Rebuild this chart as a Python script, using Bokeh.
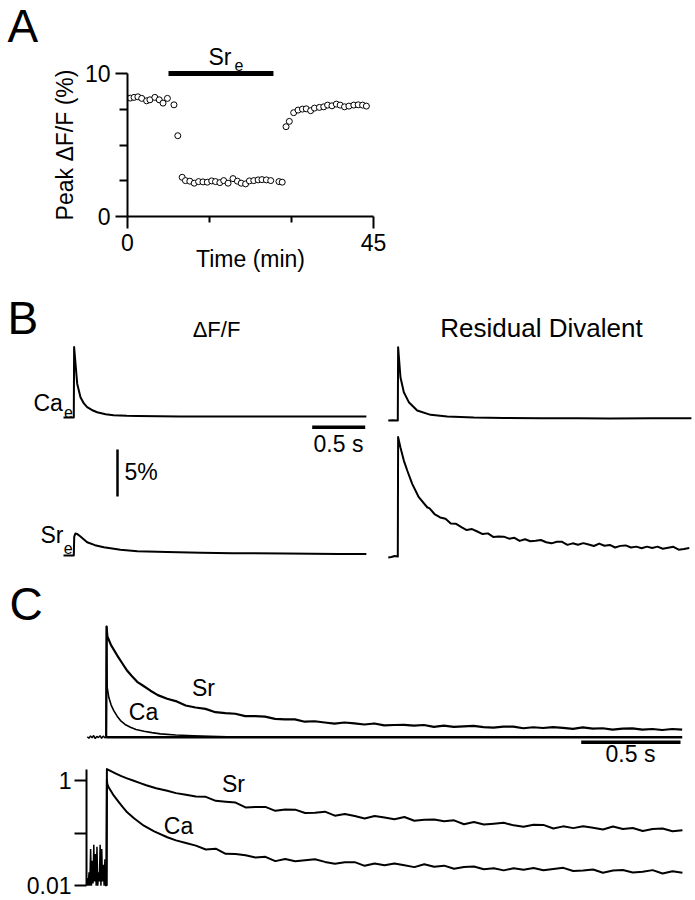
import math
from bokeh.plotting import figure
from bokeh.layouts import column, row
from bokeh.models import Label, Range1d, FixedTicker
from bokeh.embed import file_html
from bokeh.resources import INLINE

FONT = "Liberation Sans"
INK = "black"

# ---------------- DATA ----------------
# Panel A: peak dF/F (%) vs time (min)
a_time_min = [0.5, 1.2, 1.9, 2.6, 3.5, 4.1, 5.0, 5.8, 6.5, 7.3, 8.5, 9.2,
              10.0, 10.6, 11.4, 12.2, 13.0, 13.8, 14.6, 15.4, 16.1, 16.9, 17.6, 18.4,
              19.3, 20.1, 20.8, 21.6, 22.3, 23.1, 23.9, 24.6, 25.4, 26.2, 27.7, 28.3,
              29.0, 29.6, 30.4, 31.2, 32.0, 32.7, 33.5, 34.2, 35.1, 35.9, 36.6, 37.4,
              38.2, 38.9, 39.7, 40.5, 41.4, 42.2, 43.0, 43.7]
a_peak_dff = [8.28, 8.33, 8.37, 8.26, 8.09, 8.16, 8.33, 8.16, 7.93, 8.26, 7.81, 5.65,
              2.74, 2.51, 2.47, 2.33, 2.44, 2.42, 2.40, 2.49, 2.44, 2.37, 2.51, 2.33,
              2.65, 2.47, 2.33, 2.28, 2.49, 2.51, 2.56, 2.58, 2.56, 2.51, 2.44, 2.40,
              6.28, 6.65, 7.26, 7.44, 7.51, 7.53, 7.40, 7.58, 7.63, 7.67, 7.79, 7.74,
              7.86, 7.79, 7.67, 7.72, 7.79, 7.81, 7.79, 7.72]
a_sr_bar_min = [7.5, 26.7]
a_sr_bar_level = [10, 10]
a_x_ticks = [0, 45]
a_x_minor = [15, 30]
a_y_ticks = [0, 10]
a_y_minor = [2.5, 5, 7.5]

# Panel B: dF/F (%) traces, time in s
b_ca_t = [-0.097, 0.0, 0.003, 0.016, 0.032, 0.063, 0.095, 0.126, 0.17, 0.22, 0.30,
          0.375, 0.50, 0.60, 0.80, 1.00, 1.50, 2.00, 2.50, 2.76]
b_ca_dff = [0.0, 0.0, 7.5, 5.74, 3.6, 2.16, 1.5, 1.1, 0.8, 0.56, 0.35,
            0.25, 0.18, 0.15, 0.12, 0.11, 0.10, 0.10, 0.10, 0.10]
b_sr_t = [-0.097, 0.0, 0.004, 0.015, 0.03, 0.06, 0.126, 0.20, 0.283, 0.44, 0.60,
          0.88, 1.20, 1.50, 2.00, 2.50, 2.76]
b_sr_dff = [0.0, 0.0, 2.0, 2.34, 2.3, 2.05, 1.41, 1.1, 0.88, 0.61, 0.46,
            0.36, 0.30, 0.25, 0.20, 0.17, 0.15]
# Residual divalent traces
b_res_ca_t = [-0.09, -0.05, 0.0, 0.003, 0.025, 0.057, 0.104, 0.183, 0.31, 0.466,
              0.717, 1.0, 1.35, 1.7, 2.0, 2.4, 2.77]
b_res_ca_v = [0.0, 0.02, 0.0, 7.8, 4.6, 3.0, 1.95, 1.06, 0.6, 0.43,
              0.32, 0.27, 0.24, 0.24, 0.22, 0.24, 0.24]
b_res_sr_t = [-0.09, -0.06, -0.03, 0.0, 0.003, 0.025, 0.057, 0.089, 0.136, 0.198, 0.277,
              0.30, 0.35, 0.40, 0.45, 0.50, 0.55, 0.60, 0.65, 0.70, 0.75,
              0.80, 0.85, 0.90, 0.95, 1.00, 1.05, 1.10, 1.15, 1.20, 1.25,
              1.30, 1.35, 1.40, 1.45, 1.50, 1.55, 1.60, 1.65, 1.70, 1.75,
              1.80, 1.85, 1.90, 1.95, 2.00, 2.05, 2.10, 2.15, 2.20, 2.25,
              2.30, 2.35, 2.40, 2.45, 2.50, 2.55, 2.60, 2.65, 2.70, 2.75]
b_res_sr_v = [-0.1, -0.05, 0.05, 0.0, 12.7, 11.6, 10.2, 9.15, 7.73, 6.31, 5.24,
              5.12, 4.47, 4.15, 4.01, 3.50, 3.48, 3.13, 2.81, 2.92, 2.66,
              2.39, 2.46, 2.08, 2.12, 2.11, 1.90, 1.99, 1.66, 1.84, 1.62,
              1.68, 1.76, 1.52, 1.40, 1.56, 1.56, 1.24, 1.40, 1.25, 1.42,
              1.27, 1.12, 1.37, 1.14, 1.23, 0.96, 1.13, 1.18, 0.96, 1.05,
              0.87, 1.05, 0.91, 1.05, 0.83, 0.93, 1.03, 0.73, 0.80, 0.90]
b_scale_time_s = 0.5
b_scale_pct = 5

# Panel C (top): normalised residual divalent, linear
c_pre_t = [-0.095, -0.087, -0.079, -0.071, -0.063, -0.055, -0.047, -0.039, -0.031,
           -0.023, -0.015, -0.007, 0.0]
c_pre_v = [0.004, -0.010, 0.012, -0.006, 0.015, -0.012, 0.008, -0.004, 0.014,
           -0.010, 0.010, -0.006, 0.0]
c_tail_t = [0.35, 0.40, 0.45, 0.50, 0.55, 0.60, 0.65, 0.70, 0.75, 0.80,
            0.85, 0.90, 0.95, 1.00, 1.05, 1.10, 1.15, 1.20, 1.25, 1.30,
            1.35, 1.40, 1.45, 1.50, 1.55, 1.60, 1.65, 1.70, 1.75, 1.80,
            1.85, 1.90, 1.95, 2.00, 2.05, 2.10, 2.15, 2.20, 2.25, 2.30,
            2.35, 2.40, 2.45, 2.50, 2.55, 2.60, 2.65, 2.70, 2.75, 2.80,
            2.85, 2.90]
c_sr_head_t = [0.0, 0.002, 0.006, 0.025, 0.055, 0.08, 0.106, 0.13, 0.156, 0.19,
               0.223, 0.26, 0.307]
c_sr_head_v = [0.0, 1.0, 0.91, 0.83, 0.74, 0.67, 0.60, 0.55, 0.50, 0.46,
               0.42, 0.38, 0.347]
c_sr_tail_v = [0.326, 0.286, 0.268, 0.256, 0.226, 0.217, 0.212, 0.190, 0.191, 0.186,
               0.166, 0.161, 0.161, 0.140, 0.144, 0.133, 0.123, 0.133, 0.125, 0.115,
               0.124, 0.107, 0.110, 0.112, 0.104, 0.110, 0.094, 0.104, 0.094, 0.098,
               0.103, 0.091, 0.086, 0.095, 0.096, 0.081, 0.090, 0.083, 0.091, 0.084,
               0.076, 0.088, 0.077, 0.081, 0.068, 0.077, 0.080, 0.069, 0.074, 0.065,
               0.074, 0.068]
c_ca_t = [0.0, 0.002, 0.005, 0.013, 0.025, 0.038, 0.055, 0.072, 0.095, 0.122, 0.15,
          0.19, 0.23, 0.273, 0.35, 0.44, 0.52, 0.61, 0.75, 1.0, 1.5, 2.0, 2.5, 2.9]
c_ca_v = [0.0, 1.0, 0.45, 0.36, 0.29, 0.24, 0.19, 0.15, 0.115, 0.09, 0.07,
          0.054, 0.041, 0.03, 0.02, 0.013, 0.008, 0.004, 0.002, 0.001, 0.0, 0.0, 0.0, 0.0]
c_zero_t = [0.0, 2.9]
c_zero_v = [0.0, 0.0]
c_scale_time_s = 0.5

# Panel C (bottom): log scale
cl_pre_t = [-0.100, -0.096, -0.092, -0.088, -0.084, -0.080, -0.076, -0.072, -0.068,
            -0.064, -0.060, -0.056, -0.052, -0.048, -0.044, -0.040, -0.036, -0.032,
            -0.028, -0.024, -0.020, -0.016, -0.012, -0.008, -0.004, 0.000]
cl_pre_v = [0.010, 0.014, 0.010, 0.018, 0.010, 0.050, 0.010, 0.030, 0.011,
            0.060, 0.012, 0.040, 0.010, 0.055, 0.010, 0.018, 0.012, 0.060,
            0.010, 0.050, 0.012, 0.025, 0.010, 0.032, 0.010, 0.010]
cl_tail_t = [0.50, 0.55, 0.60, 0.65, 0.70, 0.75, 0.80, 0.85, 0.90, 0.95,
             1.00, 1.05, 1.10, 1.15, 1.20, 1.25, 1.30, 1.35, 1.40, 1.45,
             1.50, 1.55, 1.60, 1.65, 1.70, 1.75, 1.80, 1.85, 1.90, 1.95,
             2.00, 2.05, 2.10, 2.15, 2.20, 2.25, 2.30, 2.35, 2.40, 2.45,
             2.50, 2.55, 2.60, 2.65, 2.70, 2.75, 2.80, 2.85, 2.90]
cl_sr_head_t = [0.0, 0.002, 0.025, 0.05, 0.075, 0.1, 0.137, 0.17, 0.2, 0.25, 0.306,
                0.35, 0.4, 0.45]
cl_sr_head_v = [0.01, 1.67, 1.5, 1.35, 1.22, 1.12, 1.0, 0.9, 0.82, 0.72, 0.645,
                0.58, 0.54, 0.50]
cl_sr_tail_v = [0.493, 0.413, 0.398, 0.384, 0.310, 0.314, 0.317, 0.267, 0.283, 0.281,
                0.242, 0.245, 0.257, 0.216, 0.232, 0.212, 0.191, 0.213, 0.200, 0.184,
                0.203, 0.173, 0.180, 0.183, 0.169, 0.176, 0.148, 0.163, 0.147, 0.152,
                0.158, 0.141, 0.133, 0.145, 0.144, 0.123, 0.135, 0.125, 0.136, 0.127,
                0.118, 0.134, 0.120, 0.126, 0.110, 0.120, 0.123, 0.109, 0.114]
cl_ca_head_t = [0.0, 0.002, 0.004, 0.01, 0.02, 0.037, 0.06, 0.08, 0.104, 0.14, 0.188,
                0.24, 0.306, 0.35, 0.4, 0.45]
cl_ca_head_v = [0.01, 1.05, 0.865, 0.76, 0.66, 0.518, 0.40, 0.32, 0.25, 0.19, 0.139,
                0.108, 0.0836, 0.073, 0.065, 0.058]
cl_ca_tail_v = [0.0490, 0.0508, 0.0404, 0.0400, 0.0380, 0.0343, 0.0355, 0.0294, 0.0322, 0.0293,
                0.0306, 0.0319, 0.0284, 0.0263, 0.0281, 0.0281, 0.0239, 0.0264, 0.0245, 0.0265,
                0.0245, 0.0226, 0.0257, 0.0230, 0.0241, 0.0210, 0.0228, 0.0233, 0.0206, 0.0215,
                0.0196, 0.0215, 0.0202, 0.0217, 0.0197, 0.0208, 0.0219, 0.0190, 0.0194, 0.0203,
                0.0177, 0.0194, 0.0199, 0.0179, 0.0185, 0.0198, 0.0171, 0.0188, 0.0176]
cl_y_ticks = [0.01, 1]
cl_y_minor = [0.1]
cl_y_labels = {0.01: "0.01", 1: "1"}

# ---------------- HELPERS ----------------
BASELINE_FIX = 0.39  # Bokeh draws "alphabetic" labels this many em too low


def style(p):
    p.outline_line_color = None
    p.background_fill_color = "white"
    p.border_fill_color = "white"
    p.xgrid.visible = False
    p.ygrid.visible = False


def bare_fig(w, h, xr, yr):
    p = figure(width=w, height=h, x_range=Range1d(*xr), y_range=Range1d(*yr),
               x_axis_location=None, y_axis_location=None,
               toolbar_location=None, output_backend="svg", min_border=0)
    style(p)
    return p


def text(p, fx, fy, px, py, s, size=23, align="left"):
    p.add_layout(Label(x=fx(px), y=fy(py - BASELINE_FIX * size), text=s, text_font=FONT,
                       text_font_size=f"{size}px", text_align=align,
                       text_baseline="alphabetic", text_color=INK))


def style_axis(ax, size=23):
    ax.axis_line_width = 2
    ax.axis_line_color = INK
    ax.major_tick_line_width = 2
    ax.minor_tick_line_width = 2
    ax.major_tick_line_color = INK
    ax.minor_tick_line_color = INK
    ax.major_tick_in = 0
    ax.minor_tick_in = 0
    ax.major_tick_out = 12
    ax.major_label_text_font = FONT
    ax.major_label_text_font_size = f"{size}px"
    ax.major_label_text_color = INK
    ax.axis_label_text_font = FONT
    ax.axis_label_text_font_size = f"{size}px"
    ax.axis_label_text_font_style = "normal"
    ax.axis_label_text_color = INK


def ident(v):
    return v


# ---------------- PANEL A ----------------
# side strip with the panel letter and the y-axis title (page pixels 0..80)
pAs = bare_fig(80, 288, (0, 80), (288, 0))
text(pAs, ident, ident, 7, 43, "A", 46)
pAs.add_layout(Label(x=64, y=144.5, text="Peak ΔF/F (%)", angle=math.pi / 2,
                     text_font=FONT, text_font_size="23px", text_align="center",
                     text_baseline="alphabetic", text_color=INK))


def a_x(px):
    return (px - 127.0) * 45.0 / 246.0


def a_y(py):
    return (216.0 - py) / 14.3


pA = figure(width=615, height=288, x_range=Range1d(0, 45), y_range=Range1d(0, a_y(40)),
            toolbar_location=None, output_backend="svg",
            min_border_left=47, min_border_right=322, min_border_top=40, min_border_bottom=72)
style(pA)
xa = pA.xaxis[0]
style_axis(xa)
xa.ticker = FixedTicker(ticks=a_x_ticks, minor_ticks=a_x_minor)
xa.bounds = (0, 45)
xa.minor_tick_out = 6
xa.major_label_standoff = 5
xa.axis_label = "Time (min)"
xa.axis_label_standoff = -8
ya = pA.yaxis[0]
style_axis(ya)
ya.ticker = FixedTicker(ticks=a_y_ticks, minor_ticks=a_y_minor)
ya.bounds = (0, 10)
ya.minor_tick_out = 8
ya.major_label_standoff = 5

pA.line(a_sr_bar_min, a_sr_bar_level, line_width=5, color=INK)
pA.scatter(a_time_min, a_peak_dff, marker="circle", size=6, fill_color="white",
           line_color=INK, line_width=1)
text(pA, a_x, a_y, 208, 65, "Sr")
text(pA, a_x, a_y, 234, 71, "e", 16)

# ---------------- PANEL B (left) ----------------
def bl_x(px):
    return (px - 73.3) / 106.0


def bl_y(py):
    return (417.0 - py) / 9.4


pBL = bare_fig(382, 280, (bl_x(0), bl_x(382)), (bl_y(568), bl_y(288)))
sr_off_l = bl_y(555)
pBL.line(b_ca_t, b_ca_dff, line_width=2, color=INK, line_join="round")
pBL.line(b_sr_t, [v + sr_off_l for v in b_sr_dff], line_width=2, color=INK, line_join="round")
t0 = bl_x(311.7)
pBL.line([t0, t0 + b_scale_time_s], [bl_y(426.7)] * 2, line_width=3.5, color=INK)
xb = bl_x(117)
yb = bl_y(496)
pBL.line([xb, xb], [yb, yb + b_scale_pct], line_width=2.5, color=INK)
text(pBL, bl_x, bl_y, 7, 335, "B", 46)
text(pBL, bl_x, bl_y, 216, 338, "ΔF/F", 22, "center")
text(pBL, bl_x, bl_y, 33, 411.7, "Ca")
text(pBL, bl_x, bl_y, 63.5, 417.3, "e", 16)
text(pBL, bl_x, bl_y, 40, 543.3, "Sr")
text(pBL, bl_x, bl_y, 63.3, 553.3, "e", 16)
text(pBL, bl_x, bl_y, 338, 452, "0.5 s", 23, "center")
text(pBL, bl_x, bl_y, 124, 480, "5%", 23)

# ---------------- PANEL B (right) ----------------
def br_x(px):
    return (px - 397.3) / 106.0


def br_y(py):
    return (420.0 - py) / 9.4


pBR = bare_fig(313, 280, (br_x(382), br_x(695)), (br_y(568), br_y(288)))
res_off = br_y(556)
pBR.line(b_res_ca_t, b_res_ca_v, line_width=2, color=INK, line_join="round")
pBR.line(b_res_sr_t, [v + res_off for v in b_res_sr_v], line_width=2, color=INK,
         line_join="round")
text(pBR, br_x, br_y, 541, 338, "Residual Divalent", 26, "center")

# ---------------- PANEL C (top) ----------------
def ct_x(px):
    return (px - 105.7) / 198.6


def ct_y(py):
    return (736.7 - py) / 110.7


pCt = bare_fig(695, 199, (ct_x(0), ct_x(695)), (ct_y(767), ct_y(568)))
pCt.line(c_zero_t, c_zero_v, line_width=2.5, color=INK)
pCt.line(c_pre_t, c_pre_v, line_width=1.5, color=INK)
pCt.line(c_ca_t, c_ca_v, line_width=1.6, color=INK, line_join="round")
pCt.line(c_sr_head_t + c_tail_t, c_sr_head_v + c_sr_tail_v, line_width=2.2, color=INK,
         line_join="round")
tc = ct_x(580.7)
pCt.line([tc, tc + c_scale_time_s], [ct_y(741.7)] * 2, line_width=3.5, color=INK)
text(pCt, ct_x, ct_y, 9, 621, "C", 46)
text(pCt, ct_x, ct_y, 203, 696.7, "Sr", 23, "center")
text(pCt, ct_x, ct_y, 143, 720, "Ca", 23, "center")
text(pCt, ct_x, ct_y, 630, 762, "0.5 s", 23, "center")

# ---------------- PANEL C (bottom, log) ----------------
def cb_x(px):
    return (px - 106.0) / 198.6


def cb_y(py):
    return 10 ** ((780.2 - py) / 52.5)


pCb = figure(width=695, height=132, x_range=Range1d(cb_x(86), cb_x(695)),
             y_range=Range1d(cb_y(899), cb_y(767)), y_axis_type="log",
             x_axis_location=None, toolbar_location=None, output_backend="svg",
             min_border=0, min_border_left=86)
style(pCb)
yl = pCb.yaxis[0]
style_axis(yl)
yl.ticker = FixedTicker(ticks=cl_y_ticks, minor_ticks=cl_y_minor)
yl.bounds = (0.01, 1.67)
yl.minor_tick_out = 12
yl.major_label_standoff = 3
yl.major_label_overrides = cl_y_labels
pCb.line(cl_pre_t, cl_pre_v, line_width=1.5, color=INK)
pCb.line(cl_ca_head_t + cl_tail_t, cl_ca_head_v + cl_ca_tail_v, line_width=2, color=INK,
         line_join="round")
pCb.line(cl_sr_head_t + cl_tail_t, cl_sr_head_v + cl_sr_tail_v, line_width=2, color=INK,
         line_join="round")
text(pCb, cb_x, cb_y, 233, 792.5, "Sr", 23, "center")
text(pCb, cb_x, cb_y, 178, 834.5, "Ca", 23, "center")

layout = column(row(column(pAs), column(pA)), row(pBL, pBR), row(pCt), row(pCb))
open("out.html", "w").write(file_html(layout, INLINE))
